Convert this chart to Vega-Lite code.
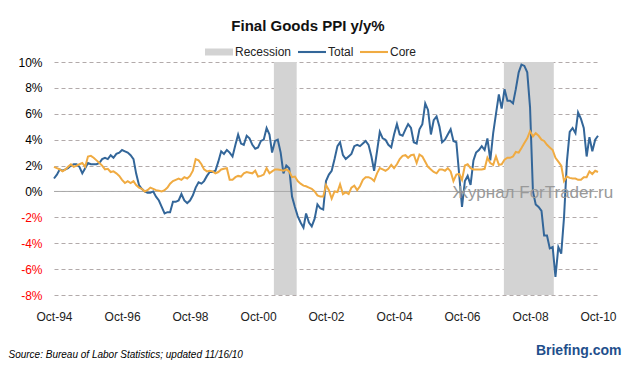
{
"$schema":"https://vega.github.io/schema/vega-lite/v6.json",
"width":544,"height":233,
"autosize":{"type":"none"},
"padding":{"left":54,"top":62,"right":30,"bottom":74},
"background":"white",
"title":{"text":"Final Goods PPI y/y%","font":"Liberation Sans","fontSize":15,"fontWeight":"bold","color":"#111111","anchor":"middle","dx":-18},
"config":{"view":{"stroke":null},"font":"Liberation Sans"},
"datasets":{
"rec":[{"series":"Recession","d":"2001-03-20","d2":"2001-11-20"},{"series":"Recession","d":"2007-12-25","d2":"2009-06-13"}],
"main":[
{"d":"1994-10-01","Total":1.0,"Core":1.9},{"d":"1994-11-01","Total":1.3,"Core":1.8},{"d":"1994-12-01","Total":1.7,"Core":1.7},
{"d":"1995-01-01","Total":1.6,"Core":1.55},{"d":"1995-02-01","Total":1.7,"Core":1.7},{"d":"1995-03-01","Total":1.8,"Core":1.9},{"d":"1995-04-01","Total":2.0,"Core":2.1},{"d":"1995-05-01","Total":2.1,"Core":1.9},{"d":"1995-06-01","Total":2.1,"Core":2.0},{"d":"1995-07-01","Total":1.9,"Core":2.1},{"d":"1995-08-01","Total":1.4,"Core":2.2},{"d":"1995-09-01","Total":1.8,"Core":1.9},{"d":"1995-10-01","Total":2.2,"Core":2.7},{"d":"1995-11-01","Total":2.1,"Core":2.75},{"d":"1995-12-01","Total":2.1,"Core":2.6},
{"d":"1996-01-01","Total":2.1,"Core":2.4},{"d":"1996-02-01","Total":2.2,"Core":2.2},{"d":"1996-03-01","Total":2.5,"Core":2.0},{"d":"1996-04-01","Total":2.6,"Core":1.7},{"d":"1996-05-01","Total":2.5,"Core":1.75},{"d":"1996-06-01","Total":2.8,"Core":1.5},{"d":"1996-07-01","Total":2.6,"Core":1.55},{"d":"1996-08-01","Total":2.9,"Core":1.4},{"d":"1996-09-01","Total":3.0,"Core":1.2},{"d":"1996-10-01","Total":3.2,"Core":0.9},{"d":"1996-11-01","Total":3.1,"Core":0.65},{"d":"1996-12-01","Total":3.0,"Core":0.8},
{"d":"1997-01-01","Total":2.8,"Core":0.65},{"d":"1997-02-01","Total":2.5,"Core":0.8},{"d":"1997-03-01","Total":1.4,"Core":0.5},{"d":"1997-04-01","Total":0.5,"Core":0.3},{"d":"1997-05-01","Total":0.2,"Core":0.2},{"d":"1997-06-01","Total":0.0,"Core":0.0},{"d":"1997-07-01","Total":-0.1,"Core":0.1},{"d":"1997-08-01","Total":-0.1,"Core":0.3},{"d":"1997-09-01","Total":0.0,"Core":0.2},{"d":"1997-10-01","Total":-0.4,"Core":0.1},{"d":"1997-11-01","Total":-0.7,"Core":0.05},{"d":"1997-12-01","Total":-1.2,"Core":0.0},
{"d":"1998-01-01","Total":-1.7,"Core":0.1},{"d":"1998-02-01","Total":-1.6,"Core":0.3},{"d":"1998-03-01","Total":-1.6,"Core":0.6},{"d":"1998-04-01","Total":-0.8,"Core":0.8},{"d":"1998-05-01","Total":-0.8,"Core":0.9},{"d":"1998-06-01","Total":-0.7,"Core":1.0},{"d":"1998-07-01","Total":-0.2,"Core":0.9},{"d":"1998-08-01","Total":-0.7,"Core":1.1},{"d":"1998-09-01","Total":-0.9,"Core":1.0},{"d":"1998-10-01","Total":-0.7,"Core":1.2},{"d":"1998-11-01","Total":-0.3,"Core":1.6},{"d":"1998-12-01","Total":0.3,"Core":2.5},
{"d":"1999-01-01","Total":0.7,"Core":2.4},{"d":"1999-02-01","Total":0.6,"Core":2.1},{"d":"1999-03-01","Total":0.8,"Core":1.7},{"d":"1999-04-01","Total":1.2,"Core":1.55},{"d":"1999-05-01","Total":1.5,"Core":1.6},{"d":"1999-06-01","Total":1.5,"Core":1.55},{"d":"1999-07-01","Total":1.6,"Core":1.4},{"d":"1999-08-01","Total":2.3,"Core":1.5},{"d":"1999-09-01","Total":3.1,"Core":1.7},{"d":"1999-10-01","Total":2.9,"Core":1.75},{"d":"1999-11-01","Total":3.2,"Core":1.8},{"d":"1999-12-01","Total":3.0,"Core":0.9},
{"d":"2000-01-01","Total":2.7,"Core":0.9},{"d":"2000-02-01","Total":3.6,"Core":1.1},{"d":"2000-03-01","Total":4.4,"Core":1.2},{"d":"2000-04-01","Total":3.7,"Core":1.15},{"d":"2000-05-01","Total":3.6,"Core":1.4},{"d":"2000-06-01","Total":4.3,"Core":1.5},{"d":"2000-07-01","Total":4.1,"Core":1.45},{"d":"2000-08-01","Total":3.6,"Core":1.4},{"d":"2000-09-01","Total":3.3,"Core":1.6},{"d":"2000-10-01","Total":3.4,"Core":1.15},{"d":"2000-11-01","Total":3.9,"Core":1.2},{"d":"2000-12-01","Total":4.0,"Core":1.3},
{"d":"2001-01-01","Total":4.9,"Core":1.8},{"d":"2001-02-01","Total":4.4,"Core":1.4},{"d":"2001-03-01","Total":3.0,"Core":1.55},{"d":"2001-04-01","Total":3.9,"Core":1.7},{"d":"2001-05-01","Total":4.0,"Core":1.7},{"d":"2001-06-01","Total":3.0,"Core":1.65},{"d":"2001-07-01","Total":1.4,"Core":1.6},{"d":"2001-08-01","Total":2.0,"Core":1.7},{"d":"2001-09-01","Total":1.8,"Core":1.55},{"d":"2001-10-01","Total":-0.4,"Core":1.1},{"d":"2001-11-01","Total":-1.2,"Core":1.15},{"d":"2001-12-01","Total":-1.9,"Core":0.8},
{"d":"2002-01-01","Total":-2.4,"Core":0.6},{"d":"2002-02-01","Total":-2.8,"Core":0.45},{"d":"2002-03-01","Total":-1.7,"Core":0.4},{"d":"2002-04-01","Total":-2.4,"Core":0.3},{"d":"2002-05-01","Total":-2.7,"Core":0.2},{"d":"2002-06-01","Total":-2.1,"Core":0.0},{"d":"2002-07-01","Total":-1.0,"Core":-0.3},{"d":"2002-08-01","Total":-1.3,"Core":-0.4},{"d":"2002-09-01","Total":-1.4,"Core":-0.4},{"d":"2002-10-01","Total":0.8,"Core":0.5},{"d":"2002-11-01","Total":1.3,"Core":0.1},{"d":"2002-12-01","Total":1.6,"Core":-0.55},
{"d":"2003-01-01","Total":2.5,"Core":0.0},{"d":"2003-02-01","Total":3.5,"Core":-0.05},{"d":"2003-03-01","Total":3.8,"Core":0.55},{"d":"2003-04-01","Total":2.8,"Core":-0.2},{"d":"2003-05-01","Total":2.5,"Core":-0.05},{"d":"2003-06-01","Total":2.7,"Core":-0.2},{"d":"2003-07-01","Total":2.9,"Core":0.3},{"d":"2003-08-01","Total":3.5,"Core":0.45},{"d":"2003-09-01","Total":3.6,"Core":0.1},{"d":"2003-10-01","Total":3.5,"Core":0.4},{"d":"2003-11-01","Total":3.7,"Core":0.9},{"d":"2003-12-01","Total":3.9,"Core":1.1},
{"d":"2004-01-01","Total":3.6,"Core":1.1},{"d":"2004-02-01","Total":2.7,"Core":1.0},{"d":"2004-03-01","Total":1.6,"Core":0.8},{"d":"2004-04-01","Total":3.1,"Core":1.4},{"d":"2004-05-01","Total":4.6,"Core":1.8},{"d":"2004-06-01","Total":4.1,"Core":1.7},{"d":"2004-07-01","Total":4.0,"Core":1.6},{"d":"2004-08-01","Total":3.6,"Core":1.75},{"d":"2004-09-01","Total":3.4,"Core":2.05},{"d":"2004-10-01","Total":4.4,"Core":1.8},{"d":"2004-11-01","Total":5.2,"Core":2.1},{"d":"2004-12-01","Total":4.4,"Core":2.5},
{"d":"2005-01-01","Total":4.3,"Core":2.75},{"d":"2005-02-01","Total":4.8,"Core":2.8},{"d":"2005-03-01","Total":5.2,"Core":2.6},{"d":"2005-04-01","Total":4.9,"Core":2.8},{"d":"2005-05-01","Total":3.8,"Core":2.85},{"d":"2005-06-01","Total":3.7,"Core":2.2},{"d":"2005-07-01","Total":4.8,"Core":2.85},{"d":"2005-08-01","Total":5.2,"Core":2.7},{"d":"2005-09-01","Total":6.8,"Core":2.3},{"d":"2005-10-01","Total":6.3,"Core":1.9},{"d":"2005-11-01","Total":4.4,"Core":1.7},{"d":"2005-12-01","Total":5.5,"Core":1.5},
{"d":"2006-01-01","Total":5.8,"Core":1.4},{"d":"2006-02-01","Total":5.0,"Core":1.7},{"d":"2006-03-01","Total":3.8,"Core":1.7},{"d":"2006-04-01","Total":4.0,"Core":1.6},{"d":"2006-05-01","Total":4.4,"Core":1.8},{"d":"2006-06-01","Total":4.8,"Core":1.55},{"d":"2006-07-01","Total":3.9,"Core":0.8},{"d":"2006-08-01","Total":3.8,"Core":1.3},{"d":"2006-09-01","Total":1.3,"Core":1.35},{"d":"2006-10-01","Total":-1.2,"Core":0.9},{"d":"2006-11-01","Total":0.8,"Core":2.0},{"d":"2006-12-01","Total":1.2,"Core":2.1},
{"d":"2007-01-01","Total":0.5,"Core":1.8},{"d":"2007-02-01","Total":2.4,"Core":1.7},{"d":"2007-03-01","Total":3.0,"Core":1.7},{"d":"2007-04-01","Total":3.2,"Core":1.7},{"d":"2007-05-01","Total":3.5,"Core":1.7},{"d":"2007-06-01","Total":3.2,"Core":1.75},{"d":"2007-07-01","Total":4.1,"Core":2.6},{"d":"2007-08-01","Total":2.4,"Core":2.2},{"d":"2007-09-01","Total":4.5,"Core":2.05},{"d":"2007-10-01","Total":6.0,"Core":2.7},{"d":"2007-11-01","Total":7.5,"Core":2.05},{"d":"2007-12-01","Total":6.4,"Core":2.1},
{"d":"2008-01-01","Total":7.9,"Core":2.45},{"d":"2008-02-01","Total":7.0,"Core":2.6},{"d":"2008-03-01","Total":7.0,"Core":2.6},{"d":"2008-04-01","Total":6.8,"Core":2.7},{"d":"2008-05-01","Total":7.9,"Core":3.05},{"d":"2008-06-01","Total":9.2,"Core":3.0},{"d":"2008-07-01","Total":9.8,"Core":3.35},{"d":"2008-08-01","Total":9.7,"Core":3.75},{"d":"2008-09-01","Total":9.2,"Core":4.1},{"d":"2008-10-01","Total":6.5,"Core":4.65},{"d":"2008-11-01","Total":0.0,"Core":4.25},{"d":"2008-12-01","Total":-1.0,"Core":4.5},
{"d":"2009-01-01","Total":-1.2,"Core":4.3},{"d":"2009-02-01","Total":-1.5,"Core":4.0},{"d":"2009-03-01","Total":-3.4,"Core":3.9},{"d":"2009-04-01","Total":-3.4,"Core":3.6},{"d":"2009-05-01","Total":-4.4,"Core":3.4},{"d":"2009-06-01","Total":-4.3,"Core":3.2},{"d":"2009-07-01","Total":-6.6,"Core":2.6},{"d":"2009-08-01","Total":-4.3,"Core":2.3},{"d":"2009-09-01","Total":-4.8,"Core":2.0},{"d":"2009-10-01","Total":-2.0,"Core":0.8},{"d":"2009-11-01","Total":2.3,"Core":1.15},{"d":"2009-12-01","Total":4.6,"Core":1.05},
{"d":"2010-01-01","Total":4.9,"Core":1.0},{"d":"2010-02-01","Total":4.5,"Core":1.0},{"d":"2010-03-01","Total":6.1,"Core":0.9},{"d":"2010-04-01","Total":5.6,"Core":0.9},{"d":"2010-05-01","Total":4.9,"Core":1.1},{"d":"2010-06-01","Total":2.7,"Core":1.1},{"d":"2010-07-01","Total":4.2,"Core":1.55},{"d":"2010-08-01","Total":3.1,"Core":1.35},{"d":"2010-09-01","Total":4.0,"Core":1.6},{"d":"2010-10-01","Total":4.3,"Core":1.5}
]},
"resolve":{"axis":{"y":"independent"}},
"layer":[
{"data":{"name":"rec"},
 "mark":{"type":"rect","opacity":1},
 "encoding":{
  "x":{"field":"d","type":"temporal",
   "scale":{"type":"utc","domain":[{"year":1994,"month":10,"date":1,"utc":true},{"year":2010,"month":10,"date":1,"utc":true}]},
   "axis":{"values":[{"year":1994,"month":10,"date":1,"utc":true},{"year":1996,"month":10,"date":1,"utc":true},{"year":1998,"month":10,"date":1,"utc":true},{"year":2000,"month":10,"date":1,"utc":true},{"year":2002,"month":10,"date":1,"utc":true},{"year":2004,"month":10,"date":1,"utc":true},{"year":2006,"month":10,"date":1,"utc":true},{"year":2008,"month":10,"date":1,"utc":true},{"year":2010,"month":10,"date":1,"utc":true}],
    "format":"%b-%y","grid":false,"ticks":false,"tickSize":0,"domain":false,"labelFont":"Liberation Sans","labelFontSize":12,"labelColor":"#222222","labelPadding":16,"labelFlush":false,"labelOverlap":false,
    "title":"Source: Bureau of Labor Statistics; updated 11/16/10","titleFont":"Liberation Sans","titleFontSize":10,"titleFontStyle":"italic","titleFontWeight":"normal","titleColor":"#000000","titleX":-46,"titleY":62,"titleAlign":"left","titleAnchor":"start","titleBaseline":"alphabetic"}},
  "x2":{"field":"d2"},
  "color":{"field":"series","type":"nominal",
   "scale":{"domain":["Recession","Total","Core"],"range":["#d3d3d3","#336699","#f0ab42"]},
   "legend":{"orient":"none","legendX":151,"legendY":-24,"direction":"horizontal","title":null,"symbolType":"M-1,-0.25H1V0.25H-1Z","symbolSize":784,"symbolStrokeWidth":0,"labelFont":"Liberation Sans","labelFontSize":12,"labelColor":"#222222","columnPadding":6,"labelOffset":2,
    "encode":{"symbols":{"update":{"shape":{"signal":"datum.value === 'Recession' ? 'M-1,-0.25H1V0.25H-1Z' : 'M-1,-0.25M-1,0.25M-1,-0.075H1V0.075H-1Z'"},"fill":{"scale":"color","field":"value"},"fillOpacity":{"value":1},"opacity":{"value":1},"stroke":{"value":"transparent"},"strokeWidth":{"value":0}}}}}}
 }},
{"data":{"values":[{}]},
 "mark":{"type":"rule","color":"#a8a8a8","strokeWidth":1},
 "encoding":{
  "y":{"datum":0,"type":"quantitative","scale":{"domain":[-8,10],"nice":false},
   "axis":{"orient":"right","labels":false,"ticks":false,"domain":false,"grid":false,"title":"Журнал ForTrader.ru","titleAngle":0,"titleX":-146,"titleY":135,"titleAlign":"left","titleBaseline":"alphabetic","titleFont":"Liberation Sans","titleFontSize":17,"titleFontWeight":"normal","titleColor":"#999999","zindex":3}}
 }},
{"data":{"name":"main"},
 "transform":[{"fold":["Total","Core"],"as":["series","value"]}],
 "mark":{"type":"line","strokeWidth":2},
 "encoding":{
  "x":{"field":"d","type":"temporal",
   "scale":{"type":"utc","domain":[{"year":1994,"month":10,"date":1,"utc":true},{"year":2010,"month":10,"date":1,"utc":true}]},
   "axis":{"values":[{"year":1994,"month":10,"date":1,"utc":true},{"year":1996,"month":10,"date":1,"utc":true},{"year":1998,"month":10,"date":1,"utc":true},{"year":2000,"month":10,"date":1,"utc":true},{"year":2002,"month":10,"date":1,"utc":true},{"year":2004,"month":10,"date":1,"utc":true},{"year":2006,"month":10,"date":1,"utc":true},{"year":2008,"month":10,"date":1,"utc":true},{"year":2010,"month":10,"date":1,"utc":true}],
    "format":"%b-%y","grid":false,"ticks":false,"tickSize":0,"domain":false,"labelFont":"Liberation Sans","labelFontSize":12,"labelColor":"#222222","labelPadding":16,"labelFlush":false,"labelOverlap":false,
    "title":"Source: Bureau of Labor Statistics; updated 11/16/10","titleFont":"Liberation Sans","titleFontSize":10,"titleFontStyle":"italic","titleFontWeight":"normal","titleColor":"#000000","titleX":-46,"titleY":62,"titleAlign":"left","titleAnchor":"start","titleBaseline":"alphabetic"}},
  "y":{"field":"value","type":"quantitative","scale":{"domain":[-8,10],"nice":false},
   "axis":{"values":[-8,-6,-4,-2,0,2,4,6,8,10],"labelExpr":"datum.value + '%'","grid":true,"gridDash":[4,3],"gridColor":"#b2aaaa","gridWidth":1,"ticks":false,"domain":false,"labelFont":"Liberation Sans","labelFontSize":12,
    "labelColor":{"condition":{"test":"datum.value < 0","value":"#ff0000"},"value":"#000000"},"labelPadding":12,
    "title":"Briefing.com","titleAngle":0,"titleX":567,"titleY":292,"titleAlign":"right","titleBaseline":"alphabetic","titleFont":"Liberation Sans","titleFontSize":14,"titleFontWeight":"bold","titleColor":"#1f4f8c"}},
  "color":{"field":"series","type":"nominal",
   "scale":{"domain":["Recession","Total","Core"],"range":["#d3d3d3","#336699","#f0ab42"]},
   "legend":{"orient":"none","legendX":151,"legendY":-24,"direction":"horizontal","title":null,"symbolType":"M-1,-0.25H1V0.25H-1Z","symbolSize":784,"symbolStrokeWidth":0,"labelFont":"Liberation Sans","labelFontSize":12,"labelColor":"#222222","columnPadding":6,"labelOffset":2,
    "encode":{"symbols":{"update":{"shape":{"signal":"datum.value === 'Recession' ? 'M-1,-0.25H1V0.25H-1Z' : 'M-1,-0.25M-1,0.25M-1,-0.075H1V0.075H-1Z'"},"fill":{"scale":"color","field":"value"},"fillOpacity":{"value":1},"opacity":{"value":1},"stroke":{"value":"transparent"},"strokeWidth":{"value":0}}}}}}
 }}
]
}
